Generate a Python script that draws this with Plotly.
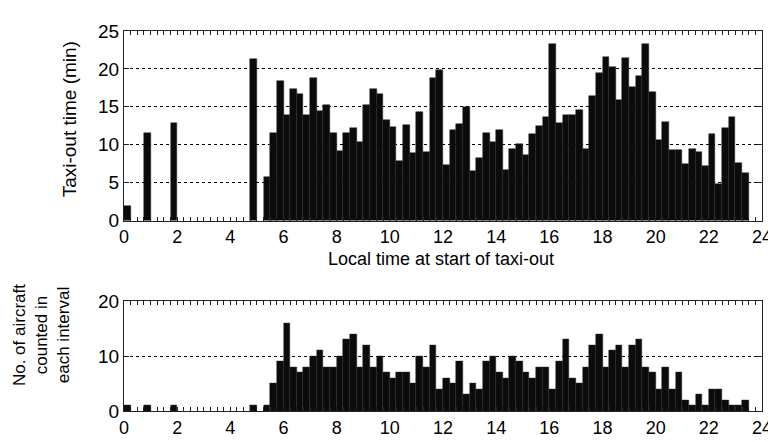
import plotly.graph_objects as go
from plotly.subplots import make_subplots

# 15-minute bins over the day, 96 bins (None = no departures in the bin)
bin_width = 0.25
bin_centres = [i * bin_width + bin_width / 2 for i in range(96)]

# Mean taxi-out time per bin (min)
taxi_out_min = [
    1.9, None, None, 11.6, None, None, None, 12.8,
    None, None, None, None, None, None, None, None,
    None, None, None, 21.3, None, 5.8, 11.6, 18.4,
    13.9, 17.3, 16.75, 13.9, 18.8, 14.5, 15.2, 11.6,
    9.2, 11.6, 12.15, 10.4, 15.2, 17.3, 16.7, 13.3,
    12.4, 7.9, 12.6, 8.85, 14.25, 9.0, 18.8, 19.8,
    7.3, 12.0, 12.75, 15.0, 6.5, 8.2, 11.5, 10.4,
    12.0, 6.7, 9.4, 10.1, 8.7, 11.4, 12.45, 13.7,
    23.3, 12.9, 13.9, 13.9, 14.6, 9.4, 16.45, 19.5,
    21.6, 20.3, 15.9, 21.4, 17.6, 19.1, 23.3, 17.0,
    10.6, 13.0, 9.3, 9.3, 7.5, 9.4, 9.0, 7.2,
    11.4, 4.85, 12.15, 13.7, 7.6, 6.3, None, None,
]

# Number of aircraft counted in each bin
aircraft_count = [
    1, None, None, 1, None, None, None, 1,
    None, None, None, None, None, None, None, None,
    None, None, None, 1, None, 1, 5, 9,
    16, 8, 7, 8, 10, 11, 8, 8,
    10, 13, 14, 8, 12, 8, 10, 7,
    6, 7, 7, 5, 10, 8, 12, 4,
    6, 5, 9, 3, 5, 4, 9, 10,
    7, 6, 10, 9, 7, 6, 8, 8,
    4, 9, 13, 6, 5, 8, 12, 14,
    8, 11, 12, 8, 12, 13, 8, 7,
    4, 8, 4, 7, 2, 1, 3, 1,
    4, 4, 2, 1, 1, 2, None, None,
]

hour_ticks = [0, 2, 4, 6, 8, 10, 12, 14, 16, 18, 20, 22, 24]
hour_labels = ["0", "2", "4", "6", "8", "10", "12", "14", "16", "18", "20", "22", "24"]

# minor ticks every 15 minutes, labels only on the even hours
tick_pos = [i * bin_width for i in range(97)]
tick_txt = [hour_labels[hour_ticks.index(t)] if t in hour_ticks else "" for t in tick_pos]

FONT = "Liberation Sans, Arial, sans-serif"

fig = make_subplots(rows=2, cols=1)

bar_style = dict(marker_color="#0b0b0b", marker_line_color="#262626",
                 marker_line_width=0.5, width=bin_width, showlegend=False)
fig.add_trace(go.Bar(x=bin_centres, y=taxi_out_min, **bar_style), row=1, col=1)
fig.add_trace(go.Bar(x=bin_centres, y=aircraft_count, **bar_style), row=2, col=1)

xaxis_style = dict(range=[0, 24], tickmode="array", tickvals=tick_pos, ticktext=tick_txt,
                   ticks="inside", ticklen=4, tickcolor="#222", mirror="ticks",
                   showline=True, linecolor="#222", linewidth=1, showgrid=False,
                   zeroline=False, tickfont=dict(size=18, color="black"))
yaxis_style = dict(ticks="inside", ticklen=5, tickcolor="#222", mirror="ticks",
                   showline=True, linecolor="#222", linewidth=1,
                   showgrid=True, gridcolor="black", griddash="3px,3px", gridwidth=1,
                   zeroline=False, tickfont=dict(size=19, color="black"))

fig.update_xaxes(**xaxis_style)
fig.update_yaxes(**yaxis_style)
fig.update_yaxes(range=[0, 25], dtick=5, row=1, col=1)
fig.update_yaxes(range=[0, 20], dtick=10, row=2, col=1)

fig.update_layout(
    width=776, height=442,
    margin=dict(l=116, r=13, t=23, b=24),
    plot_bgcolor="white", paper_bgcolor="white",
    bargap=0,
    font=dict(family=FONT, size=19, color="black"),
    xaxis=dict(domain=[0, 1]), yaxis=dict(domain=[0.5013, 1]),
    xaxis2=dict(domain=[0, 1]), yaxis2=dict(domain=[0, 0.2886]),
    annotations=[
        dict(text="Local time at start of taxi-out", x=0.497, y=0.4,
             xref="paper", yref="paper", showarrow=False,
             xanchor="center", yanchor="middle", font=dict(size=18)),
        dict(text="Taxi-out time (min)", x=-0.085, y=0.767, textangle=-90,
             xref="paper", yref="paper", showarrow=False,
             xanchor="center", yanchor="middle", font=dict(size=19)),
        dict(text="No. of aircraft<br>counted in<br>each interval", x=-0.13, y=0.2,
             textangle=-90, xref="paper", yref="paper", showarrow=False,
             xanchor="center", yanchor="middle", font=dict(size=17)),
    ],
)

fig.write_html("out.html")
